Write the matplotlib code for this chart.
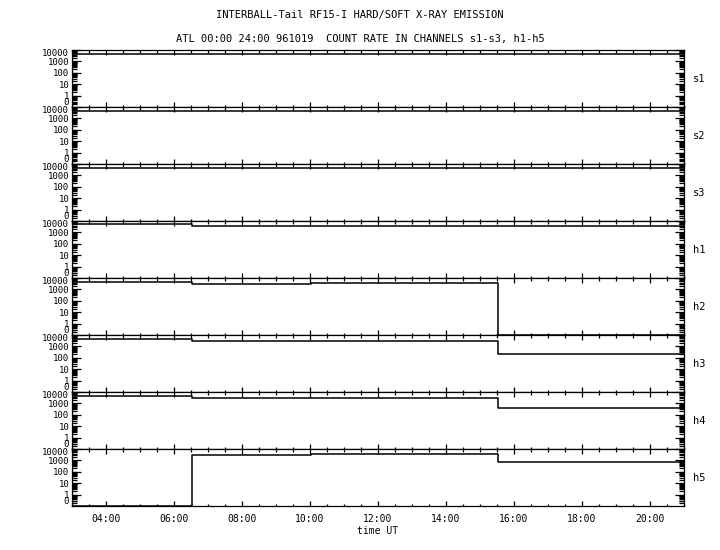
import numpy as np
import pandas as pd
import matplotlib
matplotlib.use("Agg")
import matplotlib.pyplot as plt
import matplotlib.dates as mdates
import matplotlib.transforms as mtransforms
from matplotlib.ticker import FixedLocator, FixedFormatter, LogLocator, NullFormatter

# time edges of the count-rate steps (1996-10-19, UT)
edges = pd.to_datetime(["1996-10-19 03:00", "1996-10-19 06:32", "1996-10-19 10:02",
                        "1996-10-19 15:32", "1996-10-19 21:00"])

# count rate per interval, one list per channel
channels = ["s1", "s2", "s3", "h1", "h2", "h3", "h4", "h5"]
s1 = [4200, 4200, 4200, 4200]
s2 = [4200, 4200, 4200, 4200]
s3 = [4200, 4200, 4200, 4200]
h1 = [5100, 4000, 4000, 4000]
h2 = [4500, 3000, 3700, 0]
h3 = [4500, 2800, 3300, 200]
h4 = [4500, 2700, 3100, 400]
h5 = [0, 2900, 3700, 770]
series = [s1, s2, s3, h1, h2, h3, h4, h5]

ytick_vals = [0.25, 1, 10, 100, 1000, 10000]
ytick_labels = ["0", "1", "10", "100", "1000", "10000"]

plt.rcParams['font.family'] = 'DejaVu Sans Mono'
plt.rcParams['font.size'] = 7
plt.rcParams['axes.linewidth'] = 0.9

fig, axes = plt.subplots(8, 1, figsize=(7.2, 5.5), dpi=100, sharex=True)
fig.subplots_adjust(left=0.1, right=0.95, top=0.909, bottom=0.08, hspace=0)

for ax, name, vals in zip(axes, channels, series):
    y = np.maximum(np.array(vals + [vals[-1]], dtype=float), 0.1)  # zero -> bottom of scale
    ax.step(edges, y, where='post', color='black', linewidth=1.1)

    ax.set_yscale('log')
    ax.set_ylim(0.1, 10000)
    ax.yaxis.set_major_locator(FixedLocator(ytick_vals))
    ax.yaxis.set_major_formatter(FixedFormatter(ytick_labels))
    ax.yaxis.set_minor_locator(LogLocator(base=10, subs=np.arange(2, 10), numticks=20))
    ax.yaxis.set_minor_formatter(NullFormatter())
    ax.tick_params(axis='y', which='both', direction='in', left=True, right=True, pad=2,
                   labelsize=6.5)
    ax.tick_params(axis='y', which='major', length=6.5, width=0.9)
    ax.tick_params(axis='y', which='minor', length=3.5, width=0.9)

    ticks = ax.yaxis.get_major_ticks()
    ticks[0].tick1line.set_markersize(3.5)
    ticks[0].tick2line.set_markersize(3.5)
    # nudge the crowded "0" / "10000" labels apart a little
    ticks[0].label1.set_transform(ticks[0].label1.get_transform()
                                  + mtransforms.ScaledTranslation(0, 1 / 100, fig.dpi_scale_trans))
    ticks[-1].label1.set_transform(ticks[-1].label1.get_transform()
                                   + mtransforms.ScaledTranslation(0, -2 / 100, fig.dpi_scale_trans))

    ax.tick_params(axis='x', which='both', direction='in', top=True, bottom=True)
    ax.tick_params(axis='x', which='major', length=3.5, width=0.9)
    ax.tick_params(axis='x', which='minor', length=1.8, width=0.9)

    ax.text(1.015, 0.5, name, transform=ax.transAxes, va='center', ha='left', fontsize=7.5)

axes[-1].set_xlim(pd.Timestamp("1996-10-19 03:00"), pd.Timestamp("1996-10-19 21:00"))
axes[-1].xaxis.set_major_locator(mdates.HourLocator(byhour=range(4, 21, 2)))
axes[-1].xaxis.set_minor_locator(mdates.MinuteLocator(byminute=[0, 30]))
axes[-1].xaxis.set_major_formatter(mdates.DateFormatter('%H:%M'))
axes[-1].tick_params(axis='x', which='major', pad=6)
axes[-1].set_xlabel('time UT', labelpad=1)

fig.text(0.5, 1 - 15 / 550, 'INTERBALL-Tail RF15-I HARD/SOFT X-RAY EMISSION',
         ha='center', va='center', fontsize=7.5)
fig.text(0.5, 1 - 39 / 550, 'ATL 00:00 24:00 961019  COUNT RATE IN CHANNELS s1-s3, h1-h5',
         ha='center', va='center', fontsize=7.5)

plt.savefig('out.png', dpi=100)
plt.close()
